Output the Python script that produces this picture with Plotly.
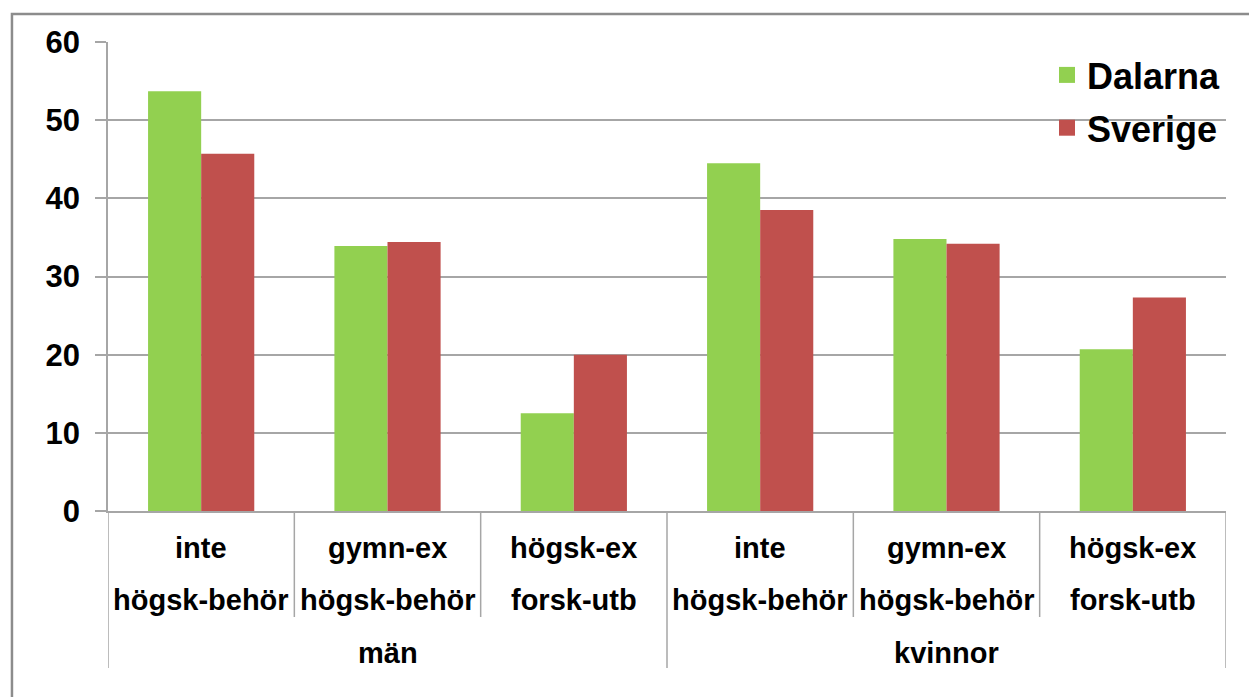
import plotly.graph_objects as go

# ---- data ----
groups = ["män", "män", "män", "kvinnor", "kvinnor", "kvinnor"]
line1 = ["inte", "gymn-ex", "högsk-ex", "inte", "gymn-ex", "högsk-ex"]
line2 = ["högsk-behör", "högsk-behör", "forsk-utb", "högsk-behör", "högsk-behör", "forsk-utb"]
dalarna = [53.7, 33.9, 12.5, 44.5, 34.8, 20.7]
sverige = [45.7, 34.4, 20.0, 38.5, 34.2, 27.3]
y_ticks = [0, 10, 20, 30, 40, 50, 60]
series_names = ["Dalarna", "Sverige"]
series_colors = ["#92d050", "#c0504d"]

cats = [f"{g} {a} {b}" for g, a, b in zip(groups, line1, line2)]

FONT = "Liberation Sans, Arial, sans-serif"
GRID = "#a6a6a6"

fig = go.Figure()
for name, vals, col in zip(series_names, [dalarna, sverige], series_colors):
    fig.add_trace(go.Bar(name=name, x=cats, y=vals, showlegend=False,
                         marker=dict(color=col, line=dict(width=0))))
# legend entries with larger square swatches
for name, col in zip(series_names, series_colors):
    fig.add_trace(go.Scatter(name=f"<b>{name}</b>", x=[None], y=[None], mode="markers",
                             legendgroup=name,
                             marker=dict(symbol="square", size=18, color=col)))

LABEL_FONT = dict(family=FONT, size=29, color="black", weight="bold")
annotations = []
for c, a, b in zip(cats, line1, line2):
    annotations.append(dict(x=c, xref="x", y=-0.079, yref="paper", text=a, showarrow=False,
                            font=LABEL_FONT, yanchor="middle"))
    annotations.append(dict(x=c, xref="x", y=-0.19, yref="paper", text=b, showarrow=False,
                            font=LABEL_FONT, yanchor="middle"))
group_names = []
for g in groups:
    if g not in group_names:
        group_names.append(g)
for g in group_names:
    idx = [i for i, gg in enumerate(groups) if gg == g]
    mid = (idx[0] + idx[-1]) / 2
    annotations.append(dict(x=mid, xref="x", y=-0.303, yref="paper", text=g, showarrow=False,
                            font=LABEL_FONT, yanchor="middle"))

shapes = []
n = len(cats)
for i in range(n + 1):
    xpos = i - 0.5
    long = i == 0 or i == n or groups[i - 1] != groups[i]
    shapes.append(dict(type="line", xref="x", yref="paper", x0=xpos, x1=xpos, y0=0,
                       y1=-0.335 if long else -0.226, line=dict(color=GRID, width=1.5)))
# outer chart border
shapes.append(dict(type="rect", xref="paper", yref="paper", x0=-0.0859, x1=1.2, y0=-1, y1=1.0597,
                   line=dict(color="#8c8c8c", width=2.5), layer="above"))

fig.update_layout(
    width=1249, height=689,
    margin=dict(l=100, r=31, t=34, b=186),
    paper_bgcolor="white", plot_bgcolor="white",
    barmode="group", bargap=0.43, bargroupgap=0,
    font=dict(family=FONT, color="black"),
    showlegend=True,
    legend=dict(x=1.0, xanchor="right", y=0.9936, yanchor="top",
                font=dict(family=FONT, size=36, color="black", weight="bold"),
                bgcolor="rgba(0,0,0,0)", itemsizing="trace", tracegroupgap=3),
    annotations=annotations,
    shapes=shapes,
    xaxis=dict(type="category", showticklabels=False, ticks="", showgrid=False,
               showline=True, linecolor=GRID, linewidth=1.5, range=[-0.5, n - 0.5], zeroline=False),
    yaxis=dict(range=[0, 60], tickvals=y_ticks, showgrid=True, gridcolor=GRID, gridwidth=1.5,
               showline=True, linecolor=GRID, linewidth=1.5, ticks="outside", ticklen=11,
               tickcolor=GRID, tickwidth=1.5, ticklabelstandoff=9, zeroline=False,
               tickfont=dict(family=FONT, size=31, color="black", weight="bold")),
)

fig.write_html("out.html")
